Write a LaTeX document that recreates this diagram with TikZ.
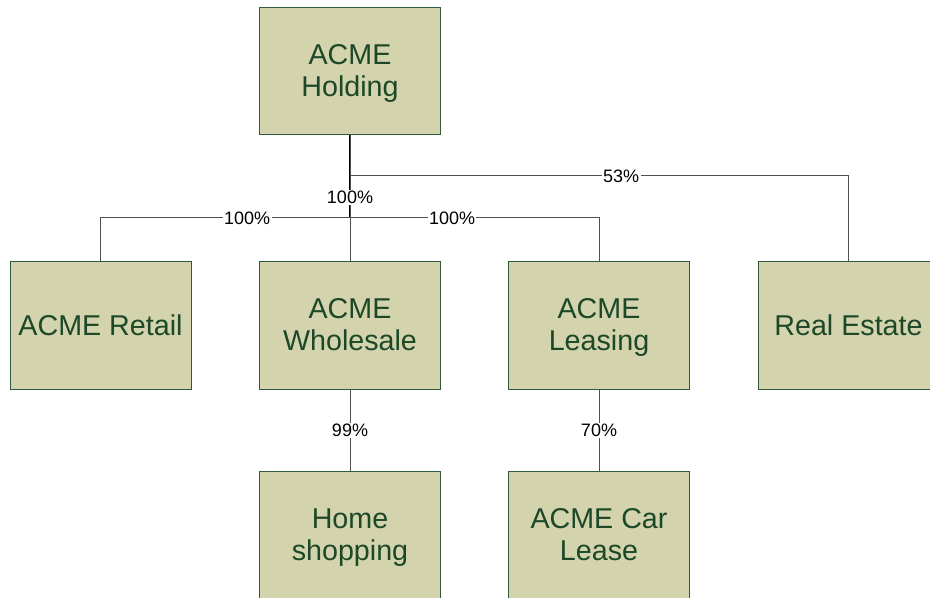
\documentclass[tikz,border=0pt]{standalone}
\usepackage{fontspec}
\setmainfont{Liberation Sans}
\usepackage{tikz}
\definecolor{boxfill}{RGB}{211,211,173}
\definecolor{boxline}{RGB}{47,90,60}
\definecolor{boxtext}{RGB}{28,72,40}
\definecolor{linkgray}{RGB}{80,80,80}
\newcommand{\twolines}[2]{\begin{tabular}[t]{@{}c@{}}#1\\#2\end{tabular}}
\tikzset{
  company/.style={draw=boxline, fill=boxfill, text=boxtext, line width=0.75pt,
    minimum width=135.75pt, minimum height=95.25pt,
    inner sep=0pt, font=\fontsize{21.5}{24}\selectfont},
  company2/.style={company, text height=14pt, text depth=24pt},
  link/.style={draw=linkgray, line width=0.75pt},
  share/.style={fill=white, inner sep=1pt, font=\fontsize{13.5}{15}\selectfont}
}

\begin{document}
\begin{tikzpicture}[x=0.75pt, y=-0.75pt]
\useasboundingbox (0,0) rectangle (930,598);

\node[company2] (hold) at (350, 71) {\twolines{ACME}{Holding}};
\node[company] (retail) at (100.5, 325.5) {ACME Retail};
\node[company2] (whole) at (350, 325.5) {\twolines{ACME}{Wholesale}};
\node[company2] (leas) at (599, 325.5) {\twolines{ACME}{Leasing}};
\node[company] (estate) at (848.5, 325.5) {Real Estate};
\node[company2] (home) at (350, 535) {\twolines{Home}{shopping}};
\node[company2] (car) at (599, 535) {\twolines{ACME Car}{Lease}};

\coordinate (jhigh) at (350, 176);
\coordinate (jlow) at (350, 218);

\draw[link, line width=1.5pt, draw=black] (hold.south) -- (jlow);
\draw[link] (hold.south) -- (jhigh) -| node[share, pos=0.272] {53\%} (estate.north);
\draw[link] (hold.south) -- (jlow) -| node[share, pos=0.206] {100\%} (retail.north);
\draw[link] (hold.south) -- (jlow) -| node[share, pos=0.205] {100\%} (leas.north);
\draw[link] (hold.south) -- node[share, pos=0.496] {100\%} (whole.north);
\draw[link] (whole.south) -- node[share] {99\%} (home.north);
\draw[link] (leas.south) -- node[share] {70\%} (car.north);

\end{tikzpicture}
\end{document}
